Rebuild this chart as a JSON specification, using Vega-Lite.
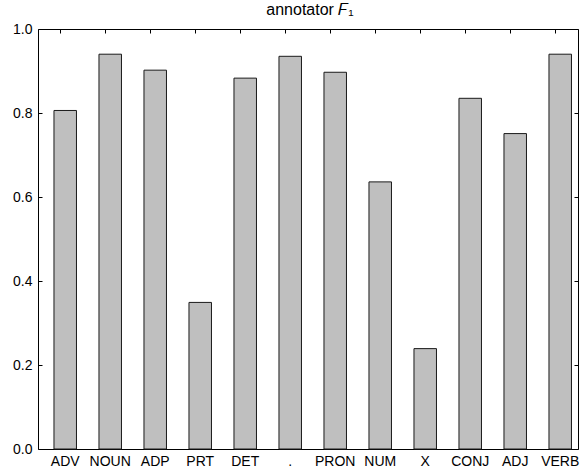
{
  "$schema": "https://vega.github.io/schema/vega-lite/v6.json",
  "width": 540,
  "height": 420,
  "autosize": {"type": "none"},
  "padding": {"left": 38, "top": 29, "right": 2, "bottom": 18},
  "background": "white",
  "title": {"text": "annotator 𝐹₁", "fontSize": 16, "fontWeight": "normal", "font": "Liberation Sans", "color": "black", "offset": -12, "baseline": "bottom", "anchor": "middle", "dx": 2},
  "config": {
    "view": {"stroke": "black", "strokeWidth": 1},
    "axis": {"domain": false, "grid": false, "tickSize": -4, "tickColor": "black", "tickWidth": 1, "labelFont": "Liberation Sans", "labelFontSize": 14, "labelColor": "black", "title": null, "labelPadding": 10}
  },
  "data": {"values": [
    {"tag": "ADV", "f1": 0.806},
    {"tag": "NOUN", "f1": 0.940},
    {"tag": "ADP", "f1": 0.902},
    {"tag": "PRT", "f1": 0.349},
    {"tag": "DET", "f1": 0.883},
    {"tag": ".", "f1": 0.935},
    {"tag": "PRON", "f1": 0.897},
    {"tag": "NUM", "f1": 0.636},
    {"tag": "X", "f1": 0.239},
    {"tag": "CONJ", "f1": 0.835},
    {"tag": "ADJ", "f1": 0.751},
    {"tag": "VERB", "f1": 0.940}
  ]},
  "layer": [
    {
      "mark": {"type": "bar", "fill": "#bfbfbf", "stroke": "#1a1a1a", "strokeWidth": 1},
      "encoding": {
        "x": {"field": "tag", "type": "nominal", "sort": null, "scale": {"paddingInner": 0.5, "paddingOuter": 0.25, "align": 0.71}, "axis": {"orient": "bottom", "labelAngle": 0, "bandPosition": 0.29, "labelPadding": 9}},
        "y": {"field": "f1", "type": "quantitative", "scale": {"domain": [0, 1], "nice": false}, "axis": {"orient": "left", "values": [0, 0.2, 0.4, 0.6, 0.8, 1.0], "format": ".1f", "labelFlush": false, "labelOverlap": false}}
      }
    },
    {
      "mark": {"type": "bar", "opacity": 0},
      "encoding": {
        "x": {"field": "tag", "type": "nominal", "sort": null, "axis": {"orient": "top", "labels": false, "labelPadding": 0, "bandPosition": 0.29}},
        "y": {"field": "f1", "type": "quantitative", "axis": {"orient": "right", "labels": false, "labelPadding": 0, "values": [0, 0.2, 0.4, 0.6, 0.8, 1.0]}}
      }
    }
  ],
  "resolve": {"axis": {"x": "independent", "y": "independent"}}
}
